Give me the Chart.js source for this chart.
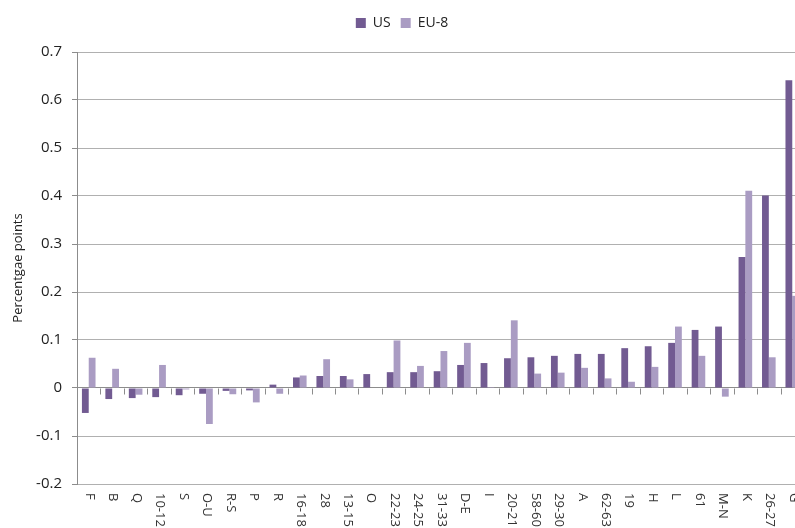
<!DOCTYPE html>
<html>
<head>
    <meta charset="UTF-8">
    <title>US vs EU-8</title>
    <script src="https://cdn.jsdelivr.net/npm/chart.js"></script>
    <style>
        body {
            margin: 0;
            padding: 0;
            overflow: hidden;
            background: #fff;
        }
        #wrap {
            width: 806px;
            height: 528px;
        }
    </style>
</head>
<body>
    <div id="wrap">
        <canvas id="chart" width="806" height="528"></canvas>
    </div>

    <script>
        // Data
        const categories = ['F', 'B', 'Q', '10-12', 'S', 'O-U', 'R-S', 'P', 'R', '16-18', '28', '13-15', 'O',
            '22-23', '24-25', '31-33', 'D-E', 'I', '20-21', '58-60', '29-30', 'A', '62-63', '19', 'H', 'L',
            '61', 'M-N', 'K', '26-27', 'G'];
        const usValues = [-0.052, -0.023, -0.021, -0.019, -0.015, -0.012, -0.006, -0.005, 0.007, 0.022,
            0.025, 0.025, 0.029, 0.033, 0.033, 0.035, 0.048, 0.052, 0.062, 0.064, 0.067, 0.071, 0.071,
            0.083, 0.087, 0.094, 0.121, 0.128, 0.273, 0.401, 0.641];
        const euValues = [0.063, 0.040, -0.014, 0.048, -0.003, -0.075, -0.013, -0.030, -0.012, 0.026,
            0.060, 0.018, -0.001, 0.099, 0.046, 0.077, 0.094, 0.002, 0.141, 0.030, 0.032, 0.042, 0.020,
            0.013, 0.044, 0.128, 0.067, -0.018, 0.411, 0.064, 0.192];
        const yTicks = [-0.2, -0.1, 0, 0.1, 0.2, 0.3, 0.4, 0.5, 0.6, 0.7];

        const axisGrey = '#8c8c8c';
        const gridGrey = '#b0b0b0';

        // extra room under the legend
        const legendGap = {
            id: 'legendGap',
            beforeInit(chart) {
                const fit = chart.legend.fit;
                chart.legend.fit = function () {
                    fit.bind(chart.legend)();
                    this.height += 12;
                };
            }
        };

        // x labels rotated clockwise + little tick marks on the zero line
        const xAxisPlugin = {
            id: 'xAxisPlugin',
            afterDraw(chart) {
                const ctx = chart.ctx;
                const x = chart.scales.x;
                const y = chart.scales.y;
                const zeroY = Math.round(y.getPixelForValue(0)) + 0.5;
                const step = x.width / categories.length;

                ctx.save();
                ctx.strokeStyle = axisGrey;
                ctx.lineWidth = 1;
                ctx.beginPath();
                for (let i = 1; i <= categories.length; i++) {
                    const bx = Math.round(x.left + i * step) + 0.5;
                    ctx.moveTo(bx, zeroY);
                    ctx.lineTo(bx, zeroY + 6);
                }
                ctx.stroke();

                ctx.fillStyle = '#333';
                ctx.font = '13px "Open Sans"';
                ctx.textAlign = 'left';
                ctx.textBaseline = 'middle';
                categories.forEach((c, i) => {
                    const cx = x.getPixelForValue(i);
                    ctx.save();
                    ctx.translate(cx + 1, chart.chartArea.bottom + 9);
                    ctx.rotate(Math.PI / 2);
                    ctx.fillText(c, 0, 0);
                    ctx.restore();
                });
                ctx.restore();
            }
        };

        const ctx = document.getElementById('chart').getContext('2d');
        const chart = new Chart(ctx, {
            type: 'bar',
            data: {
                labels: categories,
                datasets: [{
                    label: 'US',
                    data: usValues,
                    backgroundColor: '#725b92',
                    categoryPercentage: 0.58,
                    barPercentage: 1.0
                }, {
                    label: 'EU-8',
                    data: euValues,
                    backgroundColor: '#aa9cc3',
                    categoryPercentage: 0.58,
                    barPercentage: 1.0
                }]
            },
            options: {
                responsive: false,
                animation: false,
                layout: {
                    padding: { top: 6, right: 2, left: 0, bottom: 0 }
                },
                plugins: {
                    legend: {
                        display: true,
                        position: 'top',
                        labels: {
                            boxWidth: 10,
                            boxHeight: 10,
                            padding: 10,
                            color: '#222',
                            font: { family: '"Open Sans"', size: 14 }
                        }
                    },
                    tooltip: { enabled: false }
                },
                scales: {
                    x: {
                        grid: { display: false, drawTicks: false },
                        border: { display: false },
                        ticks: { display: false },
                        afterFit(scale) {
                            scale.height = 44;
                        }
                    },
                    y: {
                        min: -0.2,
                        max: 0.7,
                        afterBuildTicks(scale) {
                            scale.ticks = yTicks.map(v => ({ value: v }));
                        },
                        afterFit(scale) {
                            scale.width = 77;
                        },
                        grid: {
                            color: ctx => (ctx.tick && ctx.tick.value === 0) ? axisGrey : gridGrey,
                            tickColor: axisGrey,
                            tickLength: 5,
                            drawTicks: true
                        },
                        border: { display: true, color: axisGrey },
                        ticks: {
                            padding: 10,
                            color: '#222',
                            font: { family: '"Open Sans"', size: 15 },
                            callback: v => (Math.abs(v) < 1e-9 ? '0' : v.toFixed(1))
                        },
                        title: {
                            display: true,
                            text: 'Percentgae points',
                            color: '#222',
                            font: { family: '"Open Sans"', size: 13 },
                            padding: { top: 10, bottom: 0 }
                        }
                    }
                }
            },
            plugins: [xAxisPlugin, legendGap]
        });
    </script>
</body>
</html>
